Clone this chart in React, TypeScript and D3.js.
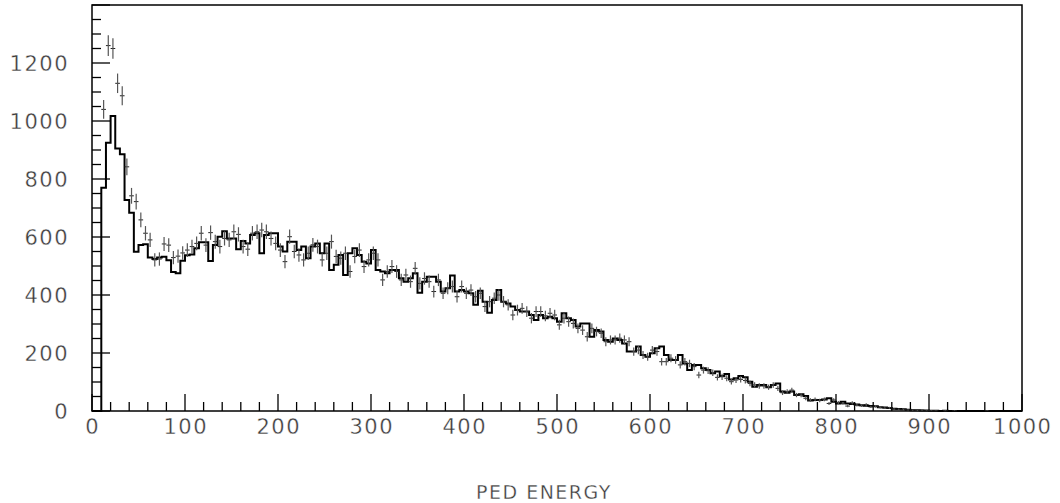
import React from "react";
import * as d3 from "d3";

// bin width 5, 200 bins over 0..1000
const binWidth = 5;

const histValues = [
  0, 0, 770, 925, 1017, 905, 885, 728, 684, 549,
  572, 575, 529, 524, 529, 532, 520, 479, 475, 518,
  537, 540, 561, 582, 582, 517, 572, 601, 620, 595,
  595, 558, 586, 578, 607, 613, 544, 607, 613, 613,
  567, 550, 584, 584, 555, 567, 527, 567, 578, 544,
  578, 486, 504, 538, 469, 544, 561, 538, 515, 509,
  555, 486, 481, 475, 486, 486, 458, 446, 458, 475,
  408, 446, 463, 463, 446, 412, 423, 467, 412, 417,
  412, 406, 366, 415, 377, 339, 383, 417, 377, 371,
  360, 348, 343, 343, 331, 314, 331, 320, 325, 320,
  308, 337, 320, 314, 291, 302, 302, 256, 279, 274,
  245, 239, 250, 245, 233, 205, 205, 222, 193, 187,
  199, 216, 222, 193, 176, 176, 193, 164, 141, 159,
  159, 147, 141, 130, 136, 121, 128, 109, 113, 121,
  116, 101, 84, 90, 90, 82, 90, 95, 67, 63,
  67, 55, 58, 52, 36, 38, 38, 40, 44, 32,
  26, 32, 26, 24, 22, 20, 18, 17, 16, 13,
  12, 10, 8, 7, 6, 4, 3, 3, 2, 2,
  1, 1, 0, 1, 0, 0, 0, 0, 0, 0,
  0, 0, 0, 0, 0, 0, 0, 0, 0, 0,
];

const pointValues = [
  0, 0, 1040, 1260, 1250, 1130, 1087, 842, 742, 722,
  659, 613, 590, 521, 524, 576, 572, 529, 534, 545,
  555, 567, 578, 613, 572, 615, 584, 567, 595, 590,
  618, 609, 567, 558, 613, 618, 624, 618, 595, 578,
  555, 515, 601, 550, 538, 521, 544, 573, 567, 521,
  544, 584, 533, 527, 544, 481, 533, 555, 498, 521,
  544, 521, 452, 481, 498, 481, 452, 469, 446, 492,
  440, 457, 446, 412, 452, 406, 423, 429, 394, 429,
  406, 417, 394, 406, 360, 377, 389, 400, 377, 366,
  331, 348, 354, 343, 320, 343, 343, 328, 337, 331,
  297, 320, 308, 302, 285, 279, 256, 285, 274, 268,
  239, 245, 245, 251, 245, 239, 205, 210, 193, 187,
  210, 205, 170, 170, 182, 176, 159, 170, 164, 153,
  124, 141, 139, 132, 116, 118, 113, 101, 107, 109,
  105, 95, 90, 86, 86, 82, 90, 78, 63, 67,
  72, 55, 55, 44, 38, 40, 36, 40, 26, 38,
  29, 26, 17, 28, 20, 18, 22, 14, 16, 12,
  10, 11, 7, 6, 5, 4, 3, 2, 3, 1,
  1, 1, 0, 1, 0, 1, 0, 0, 0, 0,
  0, 0, 1, 0, 0, 0, 0, 0, 0, 0,
];

const xTickLabels = [0, 100, 200, 300, 400, 500, 600, 700, 800, 900, 1000];
const yTickLabels = [0, 200, 400, 600, 800, 1000, 1200];
const xTitle = "PED ENERGY";

const font = "'DejaVu Sans', sans-serif";

export default function App() {
  const width = 1060;
  const height = 503;

  const x = d3.scaleLinear().domain([0, 1000]).range([92, 1022]);
  const y = d3.scaleLinear().domain([0, 1400]).range([411, 5]);

  const stepData: [number, number][] = histValues.map((v, i) => [i * binWidth, v]);
  stepData.push([1000, histValues[histValues.length - 1]]);
  const histLine = d3
    .line<[number, number]>()
    .x((d) => x(d[0]))
    .y((d) => y(d[1]))
    .curve(d3.curveStepAfter);

  const xMinor = d3.range(0, 1001, 20);
  const yMinor = d3.range(0, 1401, 50);

  // wide, thin labels like the original stroke font
  const label = (key: string, tx: number, ty: number, anchor: string, txt: string | number, size: number) => (
    <text
      key={key}
      x={tx}
      y={ty}
      textAnchor={anchor}
      fontFamily={font}
      fontSize={size}
      letterSpacing={1.5}
      fill="#3a3a3a"
      stroke="#fff"
      strokeWidth={0.35}
      paintOrder="normal"
    >
      {txt}
    </text>
  );

  return (
    <svg
      width={width}
      height={height}
      style={{ position: "absolute", left: 0, top: 0, background: "#fff" }}
    >
      {/* frame */}
      <rect
        x={x(0)}
        y={y(1400)}
        width={x(1000) - x(0)}
        height={y(0) - y(1400)}
        fill="none"
        stroke="#000"
        strokeWidth={1.5}
      />

      {/* x ticks */}
      {xMinor.map((t) => (
        <line
          key={"xt" + t}
          x1={x(t)}
          x2={x(t)}
          y1={y(0)}
          y2={y(0) - (t % 100 === 0 ? 17 : 9)}
          stroke="#000"
          strokeWidth={1.3}
        />
      ))}
      {/* y ticks */}
      {yMinor.map((t) => (
        <line
          key={"yt" + t}
          x1={x(0)}
          x2={x(0) + (t % 200 === 0 ? 18 : 9)}
          y1={y(t)}
          y2={y(t)}
          stroke="#000"
          strokeWidth={1.3}
        />
      ))}

      {/* histogram */}
      <path d={histLine(stepData) || ""} fill="none" stroke="#000" strokeWidth={2} />

      {/* data points with errors */}
      {pointValues.map((v, i) => {
        if (v <= 0) return null;
        const err = Math.sqrt(v);
        const cx = x(i * binWidth + binWidth / 2);
        return (
          <g key={"p" + i}>
            <line
              x1={x(i * binWidth)}
              x2={x(i * binWidth + binWidth)}
              y1={y(v)}
              y2={y(v)}
              stroke="#222"
              strokeWidth={1}
            />
            <line
              x1={cx}
              x2={cx}
              y1={y(v - err)}
              y2={y(v + err)}
              stroke="#555"
              strokeWidth={1.2}
            />
          </g>
        );
      })}

      {/* labels */}
      {xTickLabels.map((t) => label("xl" + t, x(t) + 0.75, 434, "middle", t, 21))}
      {yTickLabels.map((t) => label("yl" + t, 69, y(t) + 7.5, "end", t, 21))}
      {label("title", 544, 499, "middle", xTitle, 19)}
    </svg>
  );
}
